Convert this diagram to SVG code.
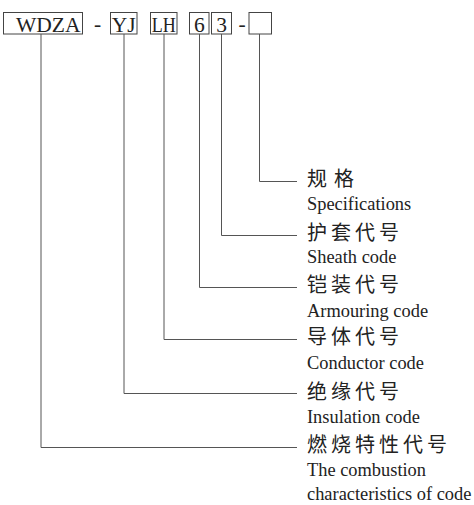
<svg xmlns="http://www.w3.org/2000/svg" width="474" height="505" viewBox="0 0 474 505">
<style>
.box{fill:#fff;stroke:#444;stroke-width:1}
.code{font-family:"Liberation Serif",serif;font-size:21.5px;fill:#222}
.conn{fill:none;stroke:#555;stroke-width:1}
.cn{font-family:"Noto Sans CJK SC",sans-serif;font-size:20px;fill:#222;letter-spacing:4px}
.en{font-family:"Liberation Serif",serif;font-size:18.4px;fill:#222}
</style>
<rect width="474" height="505" fill="#fff"/>
<g id="codes">
<g id="box-wdza"><rect class="box" x="3.5" y="12.5" width="79" height="21.5"/><text class="code" x="16" y="31.5">WDZA</text></g>
<text class="code" x="94" y="30.5">-</text>
<g id="box-yj"><rect class="box" x="110.5" y="12.5" width="26.5" height="21.5"/><text class="code" x="123.7" y="31.5" text-anchor="middle">YJ</text></g>
<g id="box-lh"><rect class="box" x="150.5" y="12.5" width="26.5" height="21.5"/><text class="code" x="163.8" y="31.5" text-anchor="middle" textLength="24" lengthAdjust="spacingAndGlyphs">LH</text></g>
<g id="box-6"><rect class="box" x="189.5" y="12.5" width="19.5" height="21.5"/><text class="code" x="199.3" y="31.5" text-anchor="middle">6</text></g>
<g id="box-3"><rect class="box" x="211.5" y="12.5" width="20" height="21.5"/><text class="code" x="221.5" y="31.5" text-anchor="middle">3</text></g>
<text class="code" x="238.5" y="30.5">-</text>
<g id="box-spec"><rect class="box" x="249" y="12.5" width="22.5" height="21.5"/></g>
</g>
<g id="connectors">
<polyline class="conn" points="259.5,34 259.5,181.5 297,181.5"/>
<polyline class="conn" points="221.5,34 221.5,235.5 297,235.5"/>
<polyline class="conn" points="199.5,34 199.5,287.5 297,287.5"/>
<polyline class="conn" points="164,34 164,339.5 297,339.5"/>
<polyline class="conn" points="124,34 124,393.5 297,393.5"/>
<polyline class="conn" points="41,34 41,447.5 297,447.5"/>
</g>
<g id="label-spec"><text class="cn" x="307" y="186" style="letter-spacing:7px">规格</text><text class="en" x="307" y="210">Specifications</text></g>
<g id="label-sheath"><text class="cn" x="307" y="240">护套代号</text><text class="en" x="307" y="263">Sheath code</text></g>
<g id="label-armour"><text class="cn" x="307" y="292">铠装代号</text><text class="en" x="307" y="317">Armouring code</text></g>
<g id="label-conductor"><text class="cn" x="307" y="344">导体代号</text><text class="en" x="307" y="369">Conductor code</text></g>
<g id="label-insulation"><text class="cn" x="307" y="399">绝缘代号</text><text class="en" x="307" y="423">Insulation code</text></g>
<g id="label-combustion"><text class="cn" x="307" y="452">燃烧特性代号</text><text class="en" x="307" y="476">The combustion</text><text class="en" x="307" y="500">characteristics of code</text></g>
</svg>
